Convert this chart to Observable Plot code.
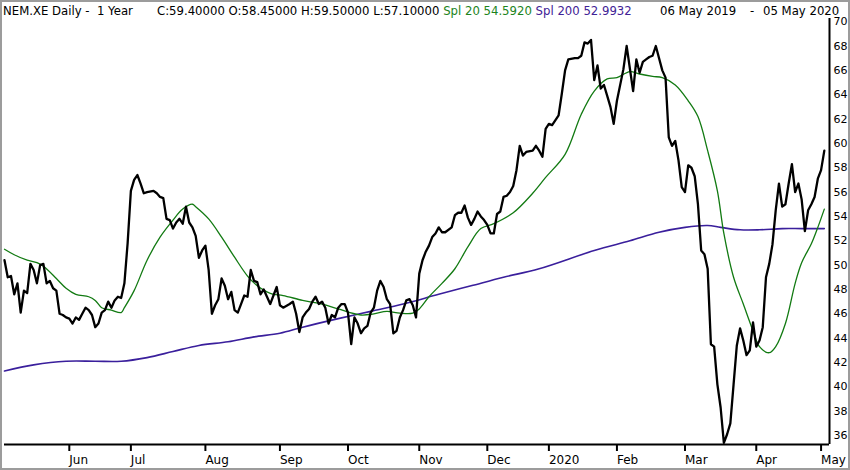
<!DOCTYPE html>
<html><head><meta charset="utf-8">
<script src="https://cdn.jsdelivr.net/npm/d3@7"></script>
<script src="https://cdn.jsdelivr.net/npm/@observablehq/plot@0.6"></script>
<style>
body{margin:0;background:#fff;}
#wrap{position:relative;width:850px;height:470px;overflow:hidden;background:#fff;}
#hdr{position:absolute;top:0;left:0;width:850px;height:18px;font-family:"DejaVu Sans";font-size:11.7px;white-space:pre;z-index:2;color:#000;}
#hdr > span{position:absolute;top:4px;}
#frame{position:absolute;left:0;top:0;width:850px;height:470px;box-sizing:border-box;border:2px solid #9c9c9c;pointer-events:none;z-index:3;}
#chart{position:absolute;top:0;left:0;}
</style></head><body>
<div id="wrap"><div id="hdr"></div><div id="chart"></div><div id="frame"></div></div>
<script>
// ---- data (trading-day index since 06 May 2019, closing price) ----
const days = [0,1,2,3,4,5,6,7,8,9,10,11,12,13,14,15,16,17,18,19,20,21,22,23,24,25,26,27,28,29,30,31,32,33,34,35,36,37,38,39,40,41,42,43,44,46,47,48,49,50,51,52,53,54,55,56,57,58,59,60,61,62,63,64,65,66,67,68,69,70,71,72,73,74,75,76,77,78,79,80,81,82,83,84,85,86,88,89,90,91,92,93,94,95,96,97,98,99,100,101,102,103,104,105,106,107,108,109,110,111,112,113,114,115,116,117,118,119,120,121,122,123,124,125,126,127,128,129,130,131,132,133,134,135,136,138,139,140,141,142,143,144,145,146,147,148,149,150,151,152,153,154,155,156,157,158,159,160,161,163,164,165,166,167,168,169,171,172,173,174,176,177,178,179,180,181,182,183,184,185,186,187,188,189,191,192,194,195,196,197,198,199,200,201,203,204,205,206,207,208,209,210,211,212,213,214,215,216,217,218,219,220,221,222,223,224,225,226,227,228,229,230,231,232,233,234,235,236,237,238,239,240,241,242,243,244,245,246,247,248,249,250,251,252,253];
const closes = [50.4,49.0,49.1,47.6,48.5,46.1,47.9,47.7,50.1,49.6,48.5,50.0,50.1,48.5,48.7,48.1,47.9,46.0,45.9,45.7,45.6,45.2,45.7,45.5,46.0,46.5,46.3,45.9,44.9,45.2,46.1,46.3,47.0,46.5,47.1,47.4,47.3,48.5,51.8,56.1,57.0,57.4,56.7,55.9,56.0,56.1,55.9,55.6,55.5,53.8,53.7,53.0,53.5,53.8,53.4,54.8,53.5,53.1,52.4,50.6,51.2,51.6,49.6,46.0,46.7,47.2,48.9,48.3,47.2,47.8,46.3,46.1,46.8,47.5,47.4,49.6,48.7,48.6,47.6,48.0,47.4,46.8,47.5,48.2,46.7,46.5,46.8,47.0,46.0,44.5,45.7,46.1,46.4,47.0,47.4,46.8,47.0,46.5,45.2,45.9,45.7,46.5,46.8,46.8,46.1,43.5,45.7,45.2,44.4,44.8,45.0,46.1,46.5,47.9,48.7,48.2,47.2,46.8,44.4,44.6,45.7,46.3,47.1,47.2,46.7,45.7,49.3,50.4,51.1,51.6,52.3,52.6,53.1,52.7,52.7,53.1,54.1,54.3,54.3,54.9,53.9,53.3,53.8,54.4,54.0,53.7,53.3,52.6,52.6,54.2,54.4,55.6,55.7,56.0,56.5,57.8,59.8,59.0,59.3,59.4,59.8,59.4,58.9,61.2,61.6,61.5,62.3,64.1,66.0,66.9,67.0,67.0,67.2,68.3,68.2,68.5,65.2,66.4,64.5,64.8,63.9,63.0,61.6,63.5,66.1,68.0,64.3,66.9,65.8,66.7,66.9,67.1,67.2,68.0,66.0,65.4,60.5,59.8,60.2,58.6,56.4,56.0,58.2,58.0,57.3,55.0,51.2,50.9,49.7,43.5,43.3,40.2,38.3,35.4,36.1,37.0,40.2,43.4,44.8,43.8,42.6,43.0,45.3,43.3,43.8,44.9,49.0,50.1,51.7,54.5,56.7,54.8,55.0,56.7,58.3,56.0,56.7,55.4,52.8,54.5,55.0,55.6,57.1,57.8,59.4];

const spl20Days = [0,3,7,10,12,16,19,22,26,28,30,33,36,37,40,44,48,52,55,58,59,63,67,71,75,78,81,83,86,92,98,103,110,114,118,122,126,128,131,135,139,143,147,151,157,163,167,173,178,182,186,189,193,196,200,203,207,211,214,217,220,222,225,228,231,233,236,238,241,244,246,249,251,253];
const spl20Vals = [51.3,50.85,50.4,50.2,49.9,48.9,48.1,47.6,47.4,47.1,46.5,46.3,46.1,46.5,47.9,50.4,52.3,53.7,54.6,55.0,54.8,53.8,52.3,50.65,49.1,48.3,47.8,47.6,47.5,47.1,46.8,46.4,45.9,46.0,46.2,46.05,46.05,46.4,47.4,48.5,49.7,51.5,53.0,53.4,54.3,55.9,57.2,59.1,62.4,64.3,65.3,65.4,65.9,65.7,65.5,65.4,64.8,63.5,62.2,59.4,56.1,52.6,49.0,46.8,44.6,43.3,42.8,43.3,45.2,48.5,50.2,51.75,53.1,54.6];

const spl200Days = [0,9,19,28,36,44,52,60,69,77,85,92,103,113,123,134,144,154,165,182,193,202,210,217,221,227,233,240,246,253];
const spl200Vals = [41.3,41.8,42.1,42.1,42.1,42.4,42.9,43.4,43.7,44.1,44.4,44.9,45.6,46.2,46.8,47.6,48.3,49.0,49.7,51.2,52.0,52.7,53.1,53.25,53.1,52.9,52.9,53.0,53.0,53.0];

const monthIdx = [20,39,62,85,106,128,149,168,189,210,232,252];
const monthLabels = ["Jun","Jul","Aug","Sep","Oct","Nov","Dec","2020","Feb","Mar","Apr","May"];
const yTicks = [36,38,40,42,44,46,48,50,52,54,56,58,60,62,64,66,68,70];

const titleText = "NEM.XE Daily -  1 Year";
const quoteText = "C:59.40000 O:58.45000 H:59.50000 L:57.10000 ";
const spl20Text = "Spl 20 54.5920";
const spl200Text = "Spl 200 52.9932";
const fromDate = "06 May 2019", dash = "-", toDate = "05 May 2020";

// ---- build header ----
const hdr = document.getElementById("hdr");
function addSpan(parent, text, x, color) {
  const s = document.createElement("span");
  s.textContent = text;
  if (x != null) s.style.left = x + "px";
  if (color) s.style.color = color;
  parent.appendChild(s);
  return s;
}
addSpan(hdr, titleText, 3);
const q = addSpan(hdr, "", 157);
addSpan(q, quoteText, null, "#000");
addSpan(q, spl20Text + " ", null, "#1c841c");
addSpan(q, spl200Text, null, "#3f2296");
addSpan(hdr, fromDate, 660);
addSpan(hdr, dash, 750);
addSpan(hdr, toDate, 763);

const price = days.map((d, i) => ({d, v: closes[i]}));
const spl20 = spl20Days.map((d, i) => ({d, v: spl20Vals[i]}));
const spl200 = spl200Days.map((d, i) => ({d, v: spl200Vals[i]}));

const X_MAX = 254.6, Y_MIN = 35.26, Y_MAX = 70.26;

const chart = Plot.plot({
  width: 850, height: 470,
  marginTop: 18, marginBottom: 26, marginLeft: 4, marginRight: 21,
  x: {domain: [0, X_MAX]},
  y: {domain: [Y_MIN, Y_MAX]},
  style: {fontFamily: "DejaVu Sans", background: "transparent", color: "#000"},
  marks: [
    Plot.line(spl200, {x: "d", y: "v", stroke: "#3a1f9c", strokeWidth: 1.6, curve: "catmull-rom"}),
    Plot.line(spl20, {x: "d", y: "v", stroke: "#127a12", strokeWidth: 1.3, curve: "catmull-rom"}),
    Plot.line(price, {x: "d", y: "v", stroke: "#000", strokeWidth: 2.3, strokeLinejoin: "round"}),
    Plot.ruleY([Y_MIN], {stroke: "#000", strokeWidth: 2.2}),
    Plot.ruleX([X_MAX], {stroke: "#000", strokeWidth: 2}),
    Plot.axisX({ticks: monthIdx, tickFormat: d => monthLabels[monthIdx.indexOf(d)], tickSize: 7, tickPadding: 4, textAnchor: "start", fontSize: 12, strokeWidth: 2, label: null}),
    Plot.axisY({anchor: "right", ticks: yTicks, tickSize: 0, tickPadding: 4, fontSize: 11, tickFormat: d => String(d), label: null})
  ]
});
document.getElementById("chart").appendChild(chart);
</script>
</body></html>
